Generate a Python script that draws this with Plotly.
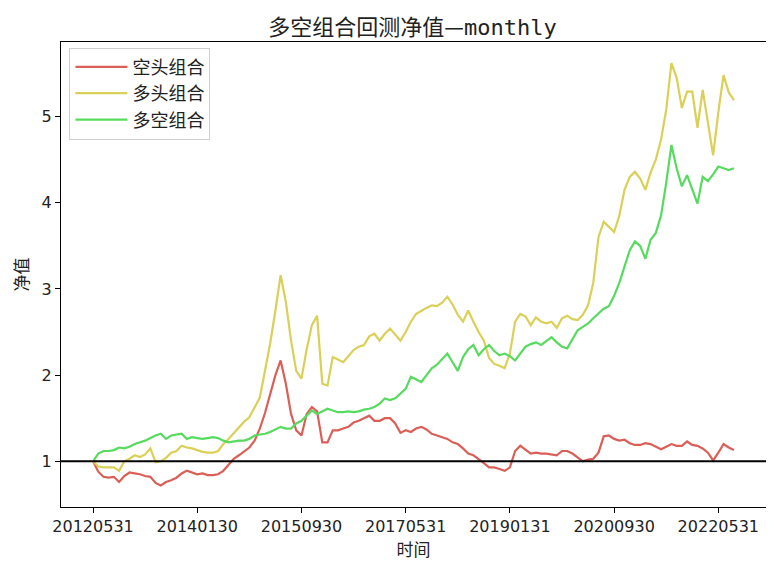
import plotly.graph_objects as go

tick_positions = [0, 20, 40, 60, 80, 100, 120]
tick_labels = ["20120531", "20140130", "20150930", "20170531", "20190131", "20200930", "20220531"]

short_nav = [
    1.00, 0.88, 0.82, 0.81, 0.82, 0.76, 0.83, 0.87, 0.86, 0.85,
    0.83, 0.82, 0.75, 0.72, 0.76, 0.78, 0.81, 0.86, 0.89, 0.87,
    0.85, 0.86, 0.84, 0.84, 0.85, 0.89, 0.96, 1.03, 1.07, 1.12,
    1.16, 1.24, 1.38, 1.56, 1.78, 2.00, 2.17, 1.90, 1.55, 1.36,
    1.30, 1.55, 1.63, 1.58, 1.22, 1.22, 1.36, 1.36, 1.38, 1.40,
    1.45, 1.47, 1.50, 1.53, 1.47, 1.47, 1.50, 1.50, 1.44, 1.33,
    1.36, 1.34, 1.38, 1.40, 1.37, 1.32, 1.30, 1.28, 1.26, 1.22,
    1.20, 1.15, 1.09, 1.07, 1.03, 0.98, 0.93, 0.93, 0.91, 0.89,
    0.93, 1.12, 1.18, 1.13, 1.09, 1.10, 1.09, 1.09, 1.08, 1.07,
    1.12, 1.12, 1.09, 1.05, 1.00, 1.02, 1.03, 1.10, 1.29, 1.30,
    1.26, 1.24, 1.25, 1.21, 1.19, 1.19, 1.21, 1.20, 1.17, 1.14,
    1.17, 1.20, 1.18, 1.18, 1.23, 1.19, 1.18, 1.15, 1.10, 1.01,
    1.10, 1.20, 1.16, 1.13,
]

long_nav = [
    1.00, 0.94, 0.93, 0.93, 0.93, 0.89, 1.00, 1.03, 1.07, 1.05,
    1.08, 1.15, 0.99, 1.00, 1.04, 1.10, 1.12, 1.18, 1.16, 1.15,
    1.13, 1.11, 1.10, 1.10, 1.12, 1.20, 1.26, 1.33, 1.40, 1.46,
    1.51, 1.62, 1.74, 2.05, 2.37, 2.75, 3.16, 2.85, 2.40, 2.05,
    1.96, 2.30, 2.58, 2.69, 1.90, 1.88, 2.21, 2.18, 2.15, 2.22,
    2.29, 2.33, 2.35, 2.45, 2.48, 2.40, 2.48, 2.54, 2.47, 2.40,
    2.50, 2.62, 2.71, 2.75, 2.78, 2.81, 2.80, 2.84, 2.91, 2.82,
    2.70, 2.62, 2.75, 2.62, 2.50, 2.40, 2.20, 2.13, 2.11, 2.08,
    2.25, 2.62, 2.71, 2.68, 2.58, 2.67, 2.62, 2.60, 2.62, 2.55,
    2.66, 2.69, 2.65, 2.64, 2.70, 2.81, 3.07, 3.60, 3.78, 3.72,
    3.66, 3.85, 4.15, 4.30, 4.36, 4.28, 4.15, 4.35, 4.50, 4.73,
    5.08, 5.62, 5.45, 5.10, 5.29, 5.29, 4.87, 5.31, 4.93, 4.55,
    5.05, 5.48, 5.28, 5.19,
]

long_short_nav = [
    1.00, 1.09, 1.12, 1.12, 1.13, 1.16, 1.15, 1.17, 1.20, 1.22,
    1.24, 1.27, 1.30, 1.32, 1.26, 1.30, 1.31, 1.32, 1.26, 1.28,
    1.27, 1.26, 1.27, 1.28, 1.27, 1.24, 1.22, 1.23, 1.24, 1.24,
    1.26, 1.30, 1.31, 1.32, 1.34, 1.37, 1.40, 1.38, 1.38, 1.44,
    1.47, 1.53, 1.59, 1.55, 1.58, 1.61, 1.59, 1.57, 1.57, 1.58,
    1.57, 1.58, 1.60, 1.61, 1.63, 1.67, 1.73, 1.71, 1.73, 1.79,
    1.84, 1.98, 1.95, 1.92, 2.00, 2.08, 2.12, 2.18, 2.25, 2.15,
    2.05, 2.21, 2.30, 2.35, 2.23, 2.30, 2.35, 2.28, 2.23, 2.25,
    2.22, 2.17, 2.25, 2.33, 2.36, 2.38, 2.35, 2.40, 2.44, 2.38,
    2.33, 2.31, 2.42, 2.52, 2.56, 2.60, 2.66, 2.72, 2.77, 2.80,
    2.92, 3.07, 3.25, 3.45, 3.55, 3.50, 3.35, 3.57, 3.65, 3.85,
    4.23, 4.67, 4.40, 4.19, 4.32, 4.15, 3.99, 4.30, 4.25, 4.33,
    4.42, 4.40, 4.38, 4.40,
]

series_names = ["空头组合", "多头组合", "多空组合"]
series_colors = ["#db5f57", "#dbd057", "#57db5f"]
series_values = [short_nav, long_nav, long_short_nav]

x_idx = list(range(len(short_nav)))

fig = go.Figure()
for k, (name, color, vals) in enumerate(zip(series_names, series_colors, series_values)):
    fig.add_trace(go.Scatter(
        x=x_idx, y=vals, mode="lines", name=name, legendgroup=f"g{k}",
        line=dict(color=color, width=2.2),
    ))

fig.add_hline(y=1, line=dict(color="black", width=2))

cjk = "Noto Sans CJK SC, DejaVu Sans, sans-serif"
num = "DejaVu Sans, Noto Sans CJK SC, sans-serif"

# the page body adds an 8px offset, so the figure is 766x553
fig.update_layout(
    width=766, height=553,
    paper_bgcolor="white", plot_bgcolor="white",
    margin=dict(l=53, r=8, t=34, b=54),
    title=dict(text="多空组合回测净值—<span style='font-family:DejaVu Sans Mono'>monthly</span>",
               x=0.528, xanchor="center",
               y=0.966, yanchor="middle",
               font=dict(family=cjk, size=22, color="#222")),
    showlegend=True,
    legend=dict(x=0.012, y=0.988, xanchor="left", yanchor="top",
                bgcolor="rgba(255,255,255,0.8)", bordercolor="#d0d0d0", borderwidth=1,
                font=dict(family=cjk, size=18, color="#222"),
                itemwidth=52, tracegroupgap=0),
    font=dict(family=num, size=16, color="#222"),
)

fig.update_xaxes(
    range=[-6.15, 129.15], tickmode="array",
    tickvals=tick_positions, ticktext=tick_labels,
    showgrid=False, zeroline=False, automargin=False,
    showline=True, linecolor="black", linewidth=1, mirror=True,
    ticks="outside", ticklen=5, tickcolor="black",
    tickfont=dict(family=num, size=16, color="#222"),
    title=dict(text="时间", font=dict(family=cjk, size=17, color="#222"), standoff=6),
)
fig.update_yaxes(
    range=[0.47, 5.865], tickmode="array", tickvals=[1, 2, 3, 4, 5],
    showgrid=False, zeroline=False, automargin=False,
    showline=True, linecolor="black", linewidth=1, mirror=True,
    ticks="outside", ticklen=5, tickcolor="black",
    tickfont=dict(family=num, size=16, color="#222"),
    title=dict(text="净值", font=dict(family=cjk, size=17, color="#222"), standoff=12),
)

fig.write_html("out.html")
